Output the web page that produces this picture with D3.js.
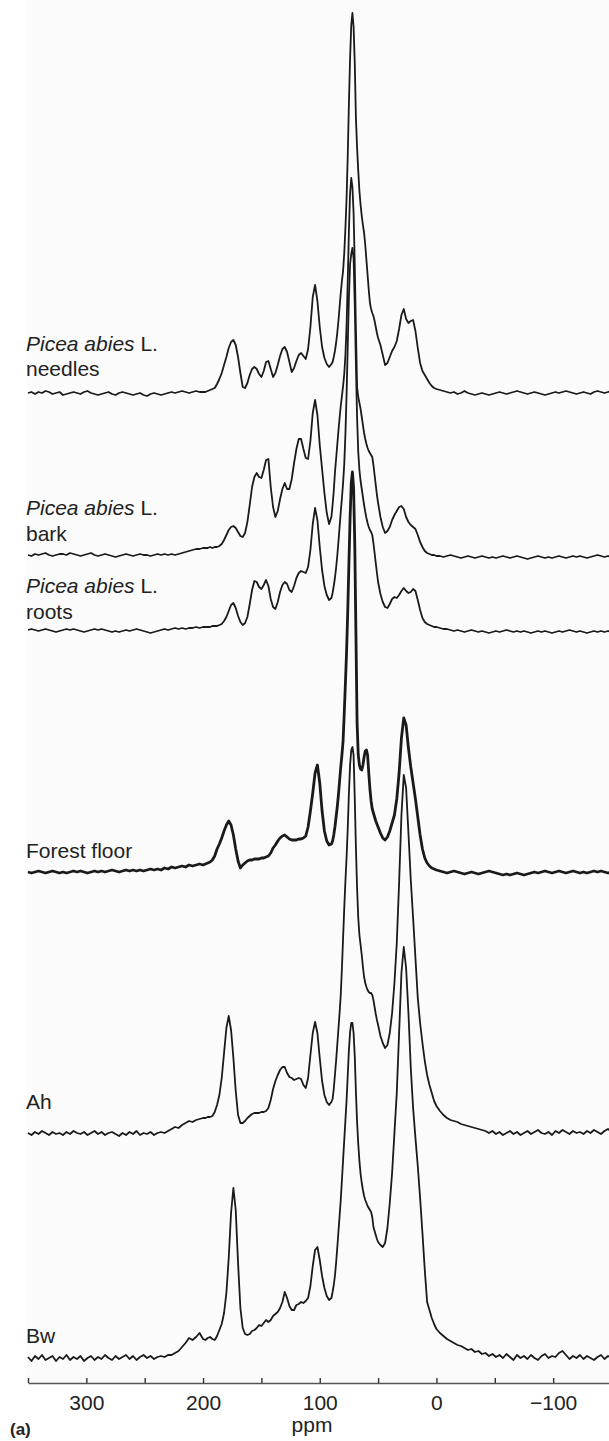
<!DOCTYPE html>
<html>
<head>
<meta charset="utf-8">
<script src="https://cdn.jsdelivr.net/npm/d3@7"></script>
<style>
  html, body { margin: 0; padding: 0; background: #fff; }
  svg { display: block; }
  text { font-family: "Liberation Sans", Arial, Helvetica, sans-serif; fill: #222; white-space: pre; }
</style>
</head>
<body>
<svg id="chart" width="609" height="1441"></svg>
<script>
// Chemical shift grid (ppm) shared by every spectrum
const ppm = [
  350, 347, 344, 341, 338, 335, 332, 329, 326, 323,
  320, 317, 314, 311, 308, 305, 302, 299, 296, 293,
  290, 287, 284, 281, 278, 275, 272, 269, 266, 263,
  260, 257, 254, 251, 248, 245, 242, 239, 236, 233,
  230, 227, 224, 221, 218, 215, 212, 209, 206, 203,
  200,
  198, 196, 194, 192, 190, 188, 186, 184, 182, 180,
  178, 176, 174, 172, 170, 168, 166, 164, 162, 160,
  158, 156, 154, 152, 150, 148, 146, 144, 142, 140,
  138, 136, 134, 132, 130, 128, 126, 124, 122, 120,
  118, 116, 114, 112, 110, 108, 106, 104, 102, 100,
  98, 96, 94, 92, 90,
  89, 88, 87, 86, 85, 84, 83, 82, 81, 80,
  79, 78, 77, 76, 75, 74, 73, 72, 71, 70,
  69, 68, 67, 66, 65, 64, 63, 62, 61, 60,
  59, 58, 57, 56, 55, 54, 53, 52, 51, 50,
  48, 46, 44, 42, 40, 38, 36, 34, 32, 30,
  28, 26, 24, 22, 20, 18, 16, 14, 12, 10,
  8, 6, 4, 2, 0,
  -3, -6, -9, -12, -15, -18, -21, -24, -27, -30,
  -33, -36, -39, -42, -45, -48, -51, -54, -57, -60,
  -63, -66, -69, -72, -75, -78, -81, -84, -87, -90,
  -93, -96, -99, -102, -105, -108, -111, -114, -117, -120,
  -123, -126, -129, -132, -135, -138, -141, -144, -147, -150
];

// Signal intensity (a.u.) of each sample at the ppm grid above
const needles = [
  0, 1, -1, 1, 0, 2, 1, -1, 0, 1,
  -2, -1, 0, 1, 0, -1, 1, 2, 0, -1,
  -2, -1, 0, 1, -1, -2, 0, 1, 0, -1,
  -2, -1, 0, -2, -3, -1, 0, -1, -2, -1,
  0, 1, 0, 1, 2, 1, 0, 1, 2, 1,
  1,
  1, 2, 3, 4, 5, 9, 14, 20, 28, 36,
  45, 51, 53, 48, 36, 20, 6, 5, 10, 18,
  24, 26, 24, 19, 16, 22, 31, 32, 24, 16,
  20, 28, 37, 44, 46, 41, 31, 21, 25, 32,
  38, 40, 37, 34, 44, 66, 96, 108, 92, 66,
  46, 35, 29, 26, 29,
  31, 36, 42, 50, 60, 72, 86, 100, 112, 122,
  140, 165, 195, 238, 290, 335, 368, 380, 366, 330,
  275, 245, 222, 202, 188, 177, 168, 160, 148, 133,
  118, 103, 90, 84, 80, 77, 72, 66, 60, 55,
  48, 38, 28, 30, 36, 42, 46, 52, 64, 78,
  84, 74, 70, 72, 73, 62, 45, 30, 22, 18,
  14, 10, 7, 5, 4,
  3, 2, 1, 0, 1, -1, 0, 2, 0, -1,
  -2, -1, 0, -1, -2, -1, 0, 1, 0, -1,
  0, 1, 2, 1, 0, -1, 0, 1, 0, -1,
  -2, -1, 0, 1, 0, 1, 2, 1, 0, -1,
  0, 1, 0, -1, 1, 2, 1, 0, 1, 2
];

const bark = [
  0, -1, 1, 0, 1, 2, 0, -1, 0, 1,
  1, 0, 2, 1, 0, -1, 0, 1, 2, 0,
  -1, 0, 1, 0, -1, -2, -1, 0, 1, 0,
  -1, 0, 1, 0, 0, -1, 0, 1, 0, 1,
  0, 1, 0, 1, 2, 3, 4, 5, 6, 6,
  7,
  7, 7, 8, 7, 8, 8, 9, 11, 15, 20,
  25, 28, 29, 27, 23, 19, 18, 22, 33, 50,
  68, 78, 82, 78, 77, 85, 95, 96, 68, 48,
  38, 44, 56, 66, 72, 66, 66, 76, 92, 106,
  116, 116, 106, 97, 96, 114, 142, 155, 140, 110,
  86, 62, 42, 31, 38,
  50, 64, 82, 96, 110, 124, 137, 149, 159, 169,
  181, 200, 230, 275, 325, 362, 377, 368, 342, 290,
  225, 168, 158, 152, 146, 138, 130, 122, 116, 111,
  107, 104, 102, 100, 98, 90, 80, 70, 60, 52,
  38, 28, 22, 24, 28, 35, 40, 44, 48, 49,
  46, 38, 33, 30, 28, 26, 20, 13, 8, 4,
  2, 1, 0, 0, -1,
  -1, -2, -1, 0, -1, -2, -3, -2, -1, -2,
  -3, -2, -1, -2, -3, -2, -3, -2, -1, -2,
  -3, -2, -1, -2, -3, -4, -3, -2, -1, -2,
  -3, -2, -3, -2, -1, -2, -3, -2, -1, -2,
  -1, -2, -3, -2, -1, 0, -1, -2, -1, -2
];

const roots = [
  0, 1, 0, -1, 0, 1, 0, -1, -2, -1,
  0, 1, 0, 1, 0, -1, -2, -1, 0, 1,
  0, 1, 0, -1, -2, -1, -2, -1, 0, -1,
  0, 1, 0, -1, -2, -3, -2, -1, 0, 1,
  0, 1, 2, 1, 2, 1, 2, 2, 3, 2,
  3,
  3, 3, 3, 4, 4, 4, 5, 6, 9, 13,
  19, 25, 27, 22, 14, 8, 5, 7, 13, 26,
  40, 49, 48, 43, 41, 45, 50, 44, 31, 23,
  21, 28, 38, 45, 48, 46, 40, 38, 44, 52,
  57, 59, 58, 57, 63, 80, 106, 122, 110, 83,
  60, 44, 35, 30, 32,
  37, 44, 52, 62, 74, 88, 103, 118, 132, 147,
  166, 196, 236, 285, 333, 366, 376, 382, 372, 325,
  265, 212, 178, 160, 149, 141, 133, 125, 118, 112,
  107, 103, 100, 98, 95, 87, 77, 67, 57, 48,
  36, 28, 23, 22, 26, 31, 33, 32, 35, 39,
  42, 39, 37, 38, 41, 39, 30, 20, 12, 8,
  6, 5, 4, 3, 3,
  2, 1, 1, 0, -1, 0, -1, -2, -1, 0,
  -1, -2, -1, -2, -3, -2, -1, -2, -1, 0,
  -1, -2, -1, -2, -1, -2, -3, -2, -1, -2,
  -1, -2, -3, -2, -1, -2, -1, 0, -1, -2,
  -1, -2, -3, -2, -1, -2, -1, -2, -1, -2
];

const forestFloor = [
  1, 0, 1, 2, 1, 0, 1, 2, 1, 0,
  1, 0, 1, 2, 1, 2, 1, 0, 1, 2,
  1, 2, 1, 2, 3, 2, 1, 2, 3, 2,
  3, 2, 3, 2, 3, 4, 3, 4, 3, 5,
  4, 6, 5, 6, 7, 6, 8, 7, 8, 9,
  8,
  9, 10, 11, 13, 17, 24, 29, 35, 42, 48,
  52, 48, 38, 24, 12, 5, 8, 10, 12, 13,
  13, 14, 14, 14, 15, 15, 16, 17, 20, 25,
  28, 32, 35, 37, 38, 36, 34, 33, 33, 33,
  34, 34, 35, 37, 46, 62, 80, 100, 108, 90,
  62, 42, 32, 28, 29,
  32, 38, 46, 56, 66, 78, 92, 106, 118, 132,
  160, 190, 222, 262, 310, 355, 390, 401, 385, 330,
  240, 150, 118, 108, 104, 103, 108, 116, 122, 123,
  118, 100, 84, 72, 64, 60, 56, 52, 49, 46,
  40, 35, 33, 36, 42, 50, 58, 74, 100, 135,
  155, 148, 125, 106, 90, 74, 56, 38, 24, 15,
  10, 7, 5, 4, 3,
  2, 1, 0, 1, 2, 1, 0, -1, 0, 1,
  0, -1, 0, 1, 2, 1, 0, -1, -2, -1,
  -2, -1, 0, -1, -2, -1, 0, 1, 0, 1,
  2, 1, 0, 1, 2, 1, 0, 1, 2, 1,
  0, 1, 0, 1, 2, 1, 2, 1, 0, 1
];

const ah = [
  0, -2, 1, -1, 2, 0, -2, 1, -1, 0,
  -2, 1, -1, 2, 0, -1, 1, -2, 0, 2,
  -1, 1, -2, 0, 1, -1, -3, 0, -2, 1,
  -1, 2, -2, 0, -1, 1, -2, 0, 1, 0,
  2, 4, 6, 5, 8, 10, 12, 11, 13, 14,
  15,
  15, 16, 16, 17, 21, 28, 38, 55, 80, 105,
  117, 103, 75, 42, 18, 10, 10, 12, 15, 17,
  19, 20, 20, 20, 21, 21, 22, 25, 33, 44,
  52, 58, 63, 66, 66, 60, 56, 55, 53, 54,
  55, 54, 48, 45, 55, 78, 100, 111, 100, 75,
  52, 38, 31, 28, 31,
  34, 44, 58, 72, 88, 104, 120, 138, 165, 195,
  225, 252, 276, 305, 340, 368, 383, 386, 378, 335,
  285, 245, 215, 198, 188, 178, 166, 156, 150, 146,
  143, 141, 140, 140, 138, 133, 126, 119, 113, 108,
  97, 90, 85, 88, 100, 120, 150, 190, 250, 318,
  358, 345, 300, 253, 215, 175, 135, 110, 90, 72,
  58, 48, 40, 32, 27,
  22, 18, 15, 13, 12, 11, 9, 8, 7, 6,
  5, 4, 3, 2, 0, 2, -1, 1, -2, 0,
  2, -1, 1, -2, 0, 2, -1, 1, 3, 0,
  -1, 1, -2, 2, 0, 3, 1, -1, 2, 0,
  1, -1, 2, 0, 3, 1, -1, 2, 4, 1
];

const bw = [
  1, -3, 2, -1, 3, -2, 0, 2, -3, 1,
  -1, 3, -2, 1, -1, 2, -3, 0, 2, -2,
  1, -1, 3, 0, -2, 2, -1, 1, 3, -1,
  2, -2, 1, 3, 0, 2, -1, 1, 2, 1,
  3, 3, 5, 7, 11, 15, 20, 18, 21, 25,
  19,
  18, 20, 21, 19, 18, 22, 28, 34, 45, 65,
  100, 145, 170, 148, 95, 50, 30, 24, 23, 24,
  27, 28, 30, 33, 32, 35, 38, 36, 38, 42,
  44, 46, 50, 56, 66, 60, 52, 48, 48, 53,
  54, 56, 55, 57, 60, 72, 92, 108, 111, 98,
  82, 70, 62, 58, 60,
  66, 73, 82, 95, 110, 126, 142, 158, 178, 198,
  218, 238, 258, 283, 308, 326, 335, 335, 325, 302,
  266, 236, 214, 197, 184, 175, 168, 162, 158, 155,
  152, 150, 148, 146, 141, 131, 127, 123, 119, 116,
  113, 111, 115, 130, 155, 185, 225, 265, 325, 385,
  411, 390, 345, 290, 250, 220, 192, 160, 125, 88,
  56, 48, 40, 34, 29,
  25, 22, 19, 17, 15, 13, 12, 10, 8, 9,
  6, 7, 4, 5, 2, 4, 1, 3, 0, 4,
  1, -2, 3, 0, 2, -1, 3, 0, -2, 2,
  4, 0, 2, 1, 5, 7, 3, -1, 2, 0,
  3, -1, 2, 0, -2, 1, 3, -1, 2, 0
];

// Sample names: italic part, upright part, second line
const sampleNames = [
  ["Picea abies", " L.", "needles"],
  ["Picea abies", " L.", "bark"],
  ["Picea abies", " L.", "roots"],
  ["", "Forest floor", ""],
  ["", "Ah", ""],
  ["", "Bw", ""]
];

const tickMarks = [350, 300, 250, 200, 150, 100, 50, 0, -50, -100, -150];
const tickLabels = [300, 200, 100, 0, -100];
const axisTitle = "ppm";
const panelTag = "(a)";

// ---- layout ----
const width = 609, height = 1441;
const axisY = 1383;
const plotLeft = 28, plotRight = 611.5;
const stackOffsets = [990, 828, 753, 510, 250, 25];      // vertical offset of each spectrum
const lineWidths = [1.8, 1.8, 1.8, 2.8, 1.8, 1.8];
const labelBaselines = [[350.5, 376], [515, 541], [593, 619], [858], [1109], [1343]];
const labelX = 26;

const spectra = [needles, bark, roots, forestFloor, ah, bw];
spectra.forEach((s, i) => {
  if (s.length !== ppm.length) console.error("spectrum " + i + " has " + s.length + " points, grid has " + ppm.length);
});

const svg = d3.select("#chart");

const x = d3.scaleLinear().domain([350, -150]).range([plotLeft, plotRight]);
const y = d3.scaleLinear().domain([0, axisY]).range([axisY, 0]);

// plot area background
svg.append("rect")
  .attr("x", plotLeft - 1).attr("y", 0)
  .attr("width", width - plotLeft + 1).attr("height", axisY)
  .attr("fill", "#fbfbfb");

const line = d3.line()
  .defined(d => d[1] !== undefined)
  .x(d => x(d[0]))
  .curve(d3.curveLinear);

const traces = svg.append("g").attr("class", "traces");
spectra.forEach((s, i) => {
  const pts = ppm.map((p, k) => [p, s[k]]);
  traces.append("path")
    .datum(pts)
    .attr("fill", "none")
    .attr("stroke", "#1a1a1a")
    .attr("stroke-width", lineWidths[i])
    .attr("stroke-linejoin", "round")
    .attr("d", line.y(d => y(stackOffsets[i] + d[1])));
});

// sample labels
const labels = svg.append("g").attr("class", "labels").attr("font-size", 21);
sampleNames.forEach((n, i) => {
  const t = labels.append("text").attr("x", labelX).attr("y", labelBaselines[i][0]);
  if (n[0]) t.append("tspan").attr("font-style", "italic").text(n[0]);
  t.append("tspan").text(n[1]);
  if (n[2]) {
    labels.append("text").attr("x", labelX).attr("y", labelBaselines[i][1]).text(n[2]);
  }
});

// ppm axis
const fmt = d => tickLabels.includes(d) ? (d < 0 ? "\u2212" + Math.abs(d) : String(d)) : "";
const axis = d3.axisBottom(x)
  .tickValues(tickMarks)
  .tickSizeInner(-5)
  .tickSizeOuter(0)
  .tickPadding(12)
  .tickFormat(fmt);

const gAxis = svg.append("g")
  .attr("transform", `translate(0,${axisY})`)
  .call(axis);
gAxis.select(".domain").attr("stroke", "#555").attr("stroke-width", 1.6);
gAxis.selectAll(".tick line").attr("stroke", "#333").attr("stroke-width", 1.4);
gAxis.selectAll(".tick text")
  .attr("font-family", "\"Liberation Sans\", Arial, sans-serif")
  .attr("font-size", 21)
  .attr("fill", "#222");

svg.append("text")
  .attr("x", 312).attr("y", 1432)
  .attr("text-anchor", "middle")
  .attr("font-size", 21)
  .text(axisTitle);

svg.append("text")
  .attr("x", 10).attr("y", 1435)
  .attr("font-size", 17)
  .attr("font-weight", "bold")
  .text(panelTag);
</script>
</body>
</html>
